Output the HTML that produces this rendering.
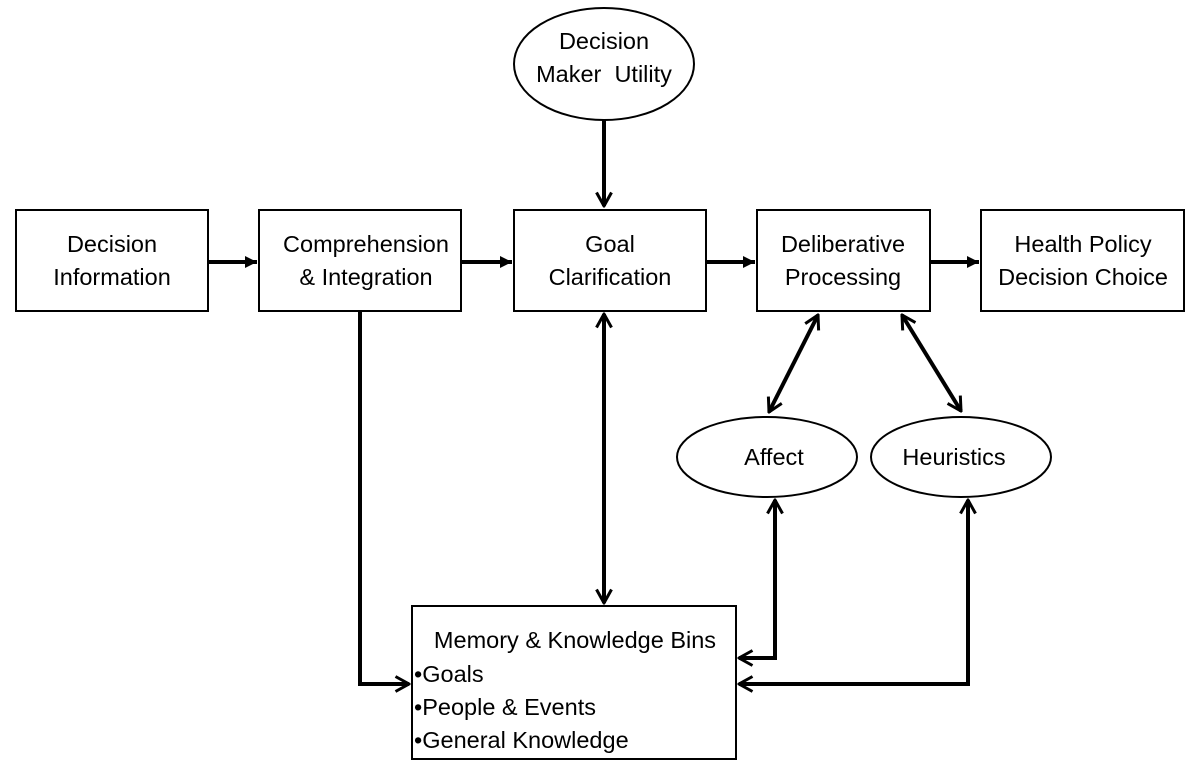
<!DOCTYPE html>
<html><head><style>
html,body{margin:0;padding:0;background:#fff;}
svg{display:block}
text{font-family:"Liberation Sans",sans-serif;font-size:23.5px;fill:#000;}
</style></head><body>
<svg width="1200" height="774" viewBox="0 0 1200 774">
<defs>
<marker id="tri" viewBox="0 0 10 10" refX="10" refY="5" markerWidth="3" markerHeight="3" orient="auto-start-reverse" markerUnits="strokeWidth"><path d="M0,0 L10,5 L0,10 z" fill="#000"/></marker>
<marker id="chev" viewBox="0 0 12 12" refX="11" refY="6" markerWidth="4.5" markerHeight="4.5" orient="auto-start-reverse" markerUnits="strokeWidth"><path d="M2,1 L11,6 L2,11" fill="none" stroke="#000" stroke-width="2"/></marker>
</defs>
<g fill="#fff" stroke="#000" stroke-width="2">
<rect x="16" y="210" width="192" height="101"/>
<rect x="259" y="210" width="202" height="101"/>
<rect x="514" y="210" width="192" height="101"/>
<rect x="757" y="210" width="173" height="101"/>
<rect x="981" y="210" width="203" height="101"/>
<rect x="412" y="606" width="324" height="153"/>
<ellipse cx="604" cy="64" rx="90" ry="56"/>
<ellipse cx="767" cy="457" rx="90" ry="40"/>
<ellipse cx="961" cy="457" rx="90" ry="40"/>
</g>
<g stroke="#000" stroke-width="4" fill="none">
<line x1="208" y1="262" x2="257" y2="262" marker-end="url(#tri)"/>
<line x1="461" y1="262" x2="512" y2="262" marker-end="url(#tri)"/>
<line x1="706" y1="262" x2="755" y2="262" marker-end="url(#tri)"/>
<line x1="930" y1="262" x2="979" y2="262" marker-end="url(#tri)"/>
<line x1="604" y1="120" x2="604" y2="206" marker-end="url(#chev)"/>
<line x1="604" y1="314" x2="604" y2="603" marker-start="url(#chev)" marker-end="url(#chev)"/>
<polyline points="360,311 360,684 409,684" marker-end="url(#chev)"/>
<line x1="818" y1="315" x2="769" y2="412" marker-start="url(#chev)" marker-end="url(#chev)"/>
<line x1="902" y1="315" x2="961" y2="411" marker-start="url(#chev)" marker-end="url(#chev)"/>
<polyline points="775,500 775,658 739,658" marker-start="url(#chev)" marker-end="url(#chev)"/>
<polyline points="968,500 968,684 739,684" marker-start="url(#chev)" marker-end="url(#chev)"/>
</g>
<g text-anchor="middle">
<text x="112" y="252">Decision</text><text x="112" y="285">Information</text>
<text x="366" y="252">Comprehension</text><text x="366" y="285">&amp; Integration</text>
<text x="610" y="252">Goal</text><text x="610" y="285">Clarification</text>
<text x="843" y="252">Deliberative</text><text x="843" y="285">Processing</text>
<text x="1083" y="252">Health Policy</text><text x="1083" y="285">Decision Choice</text>
<text x="604" y="49">Decision</text><text x="604" y="82">Maker&#160; Utility</text>
<text x="774" y="465">Affect</text>
<text x="954" y="465">Heuristics</text>
<text x="575" y="648">Memory &amp; Knowledge Bins</text>
</g>
<text x="414" y="682">•Goals</text>
<text x="414" y="715">•People &amp; Events</text>
<text x="414" y="748">•General Knowledge</text>
</svg>
</body></html>
